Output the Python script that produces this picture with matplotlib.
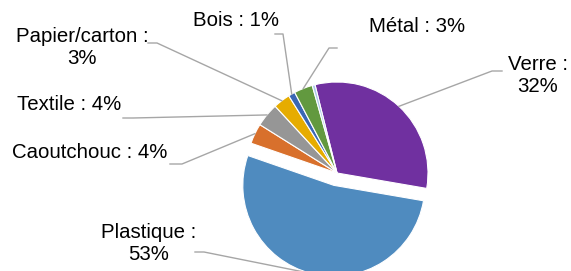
import numpy as np
import matplotlib
matplotlib.use('Agg')
import matplotlib.pyplot as plt

plt.rcParams['font.family'] = ['Liberation Sans', 'DejaVu Sans']

# données (ordre horaire à partir du haut)
categories = ['Verre', 'Plastique', 'Caoutchouc', 'Textile', 'Papier/carton', 'Bois', 'Métal', 'Autre']
valeurs = [31.6, 52.6, 3.6, 4.2, 3.0, 1.2, 3.3, 0.5]
couleurs = ['#7030a0', '#4f8bbf', '#d8702c', '#969696', '#e6ac00', '#3a67b5', '#62993f', '#a9c8e8']
eclate = [0, 0.14, 0, 0, 0, 0, 0, 0]   # fraction du rayon
# libellés : position du texte (px), retour à la ligne, ancrage du trait (px)
libelles = {
    'Verre':         ((538, 76), True,  [(502, 71), (492, 71)]),
    'Plastique':     ((149, 244), True, [(195, 252), (204, 252)]),
    'Caoutchouc':    ((90, 152), False, [(170, 164), (182, 164)]),
    'Textile':       ((69, 104), False, [(123, 118), (133, 118)]),
    'Papier/carton': ((82, 47), True,  [(148, 43), (157, 43)]),
    'Bois':          ((236, 20), False, [(275, 34), (283, 34)]),
    'Métal':         ((417, 26), False, [(337, 48), (329, 48)]),
}

W, H = 571, 271
def P(x, y):
    return (x, H - y)

fig = plt.figure(figsize=(W / 100, H / 100), dpi=100)
ax = fig.add_axes([0, 0, 1, 1])
cx, cy = P(337, 173)
R = 91
# matplotlib décale de "explode" en unités de données, pas en fraction du rayon
wedges, _ = ax.pie(valeurs, colors=couleurs, explode=[e * R for e in eclate],
                   startangle=104, counterclock=False, center=(cx, cy), radius=R,
                   wedgeprops=dict(edgecolor='white', linewidth=0.8))
ax.set_xlim(0, W)
ax.set_ylim(0, H)
ax.set_aspect('auto')
ax.axis('off')

total = sum(valeurs)
for w, nom, v in zip(wedges, categories, valeurs):
    if nom not in libelles:
        continue
    (tx, ty), deux_lignes, ancre = libelles[nom]
    pct = '%d%%' % round(v / total * 100)
    txt = nom + ' :' + ('\n' if deux_lignes else ' ') + pct
    ax.text(*P(tx, ty), txt, ha='center', va='center', fontsize=14.7,
            color='black', linespacing=1.2)
    # bout du trait : milieu de l'arc extérieur de la part
    a = np.deg2rad((w.theta1 + w.theta2) / 2)
    ex = w.center[0] + w.r * np.cos(a)
    ey = w.center[1] + w.r * np.sin(a)
    pts = [P(*p) for p in ancre] + [(ex, ey)]
    xs, ys = zip(*pts)
    ax.plot(xs, ys, color='#a6a6a6', lw=1.0, clip_on=True)

fig.savefig('out.png', dpi=100)
